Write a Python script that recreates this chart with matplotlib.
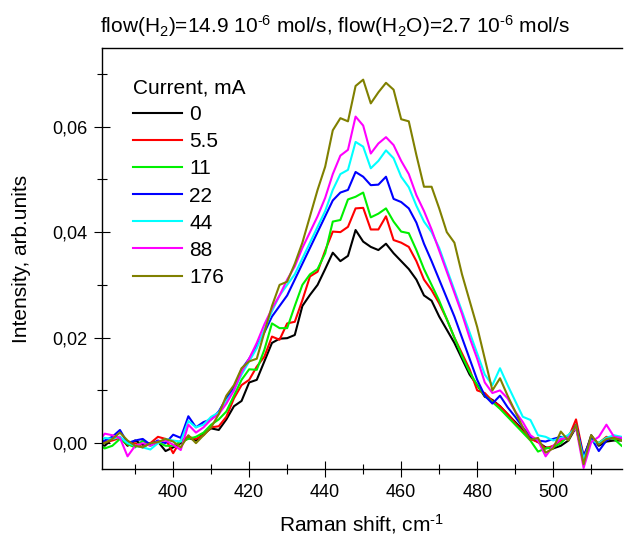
import numpy as np
import matplotlib
matplotlib.use("Agg")
from matplotlib import pyplot as plt
from matplotlib.ticker import MultipleLocator, FuncFormatter

plt.rcParams['font.family'] = ['Liberation Sans', 'DejaVu Sans']
plt.rcParams['mathtext.fontset'] = 'custom'
plt.rcParams['mathtext.rm'] = 'Liberation Sans'
plt.rcParams['mathtext.it'] = 'Liberation Sans:italic'
plt.rcParams['mathtext.default'] = 'regular'

# Raman shift grid, cm-1
shift = np.arange(380, 520, 2)

currents = ['0', '5.5', '11', '22', '44', '88', '176']
colors = ['#000000', '#ff0000', '#00f000', '#0000ff', '#00ffff', '#ff00ff', '#808000']

i_0 = [0.0000, -0.0005, 0.0008, 0.0012, -0.0005, 0.0005, -0.0003, 0.0000, 0.0003, -0.0015,
       -0.0008, 0.0000, 0.0010, 0.0005, 0.0018, 0.0028, 0.0025, 0.0045, 0.0070, 0.0080,
       0.0115, 0.0120, 0.0155, 0.0190, 0.0198, 0.0199, 0.0205, 0.0260, 0.0281, 0.0300,
       0.0330, 0.0361, 0.0345, 0.0355, 0.0404, 0.0382, 0.0372, 0.0366, 0.0378, 0.0360,
       0.0345, 0.0330, 0.0310, 0.0280, 0.0270, 0.0240, 0.0215, 0.0190, 0.0160, 0.0130,
       0.0110, 0.0088, 0.0082, 0.0070, 0.0055, 0.0040, 0.0025, 0.0010, 0.0002, -0.0008,
       -0.0010, -0.0005, 0.0005, 0.0030, -0.0030, 0.0015, -0.0005, 0.0003, 0.0005, 0.0005]
i_5 = [0.0000, 0.0002, 0.0005, 0.0010, -0.0003, 0.0000, -0.0008, 0.0000, 0.0012, 0.0008,
       -0.0019, 0.0005, 0.0012, 0.0008, 0.0015, 0.0030, 0.0032, 0.0050, 0.0085, 0.0110,
       0.0120, 0.0145, 0.0164, 0.0202, 0.0196, 0.0227, 0.0230, 0.0271, 0.0316, 0.0325,
       0.0365, 0.0401, 0.0400, 0.0410, 0.0445, 0.0446, 0.0405, 0.0405, 0.0430, 0.0385,
       0.0380, 0.0372, 0.0345, 0.0310, 0.0290, 0.0265, 0.0235, 0.0200, 0.0170, 0.0140,
       0.0100, 0.0095, 0.0080, 0.0070, 0.0055, 0.0038, 0.0022, 0.0008, 0.0002, -0.0010,
       -0.0005, 0.0005, 0.0010, 0.0045, -0.0025, 0.0010, 0.0000, 0.0012, 0.0008, 0.0010]
i_11 = [0.0000, -0.0010, -0.0005, 0.0008, -0.0002, -0.0008, 0.0005, -0.0005, 0.0002, -0.0005,
        -0.0005, 0.0003, 0.0008, 0.0012, 0.0020, 0.0035, 0.0045, 0.0060, 0.0090, 0.0120,
        0.0140, 0.0139, 0.0177, 0.0227, 0.0218, 0.0218, 0.0260, 0.0300, 0.0320, 0.0330,
        0.0360, 0.0420, 0.0423, 0.0462, 0.0467, 0.0475, 0.0428, 0.0435, 0.0445, 0.0420,
        0.0401, 0.0398, 0.0366, 0.0330, 0.0300, 0.0270, 0.0235, 0.0200, 0.0165, 0.0135,
        0.0110, 0.0090, 0.0078, 0.0065, 0.0050, 0.0035, 0.0020, 0.0005, -0.0016, -0.0010,
        -0.0008, 0.0000, 0.0015, 0.0030, -0.0030, 0.0008, 0.0000, 0.0010, 0.0008, -0.0005]
i_22 = [0.0000, 0.0005, 0.0012, 0.0025, 0.0000, 0.0005, 0.0008, -0.0003, 0.0005, 0.0000,
        0.0016, 0.0010, 0.0051, 0.0030, 0.0040, 0.0045, 0.0060, 0.0085, 0.0105, 0.0140,
        0.0160, 0.0185, 0.0210, 0.0240, 0.0260, 0.0280, 0.0310, 0.0340, 0.0370, 0.0400,
        0.0430, 0.0460, 0.0475, 0.0480, 0.0514, 0.0505, 0.0489, 0.0490, 0.0505, 0.0463,
        0.0457, 0.0445, 0.0418, 0.0378, 0.0345, 0.0310, 0.0275, 0.0240, 0.0200, 0.0160,
        0.0120, 0.0090, 0.0075, 0.0090, 0.0068, 0.0050, 0.0030, 0.0012, 0.0005, 0.0003,
        0.0008, 0.0012, 0.0008, 0.0035, -0.0025, 0.0010, -0.0015, 0.0005, 0.0012, 0.0010]
i_44 = [0.0000, 0.0010, 0.0008, 0.0012, 0.0000, -0.0005, -0.0008, -0.0012, 0.0000, 0.0008,
        0.0005, 0.0003, 0.0042, 0.0030, 0.0035, 0.0050, 0.0058, 0.0080, 0.0100, 0.0130,
        0.0155, 0.0180, 0.0215, 0.0250, 0.0280, 0.0300, 0.0320, 0.0350, 0.0380, 0.0410,
        0.0440, 0.0480, 0.0510, 0.0518, 0.0571, 0.0562, 0.0521, 0.0535, 0.0555, 0.0540,
        0.0505, 0.0485, 0.0450, 0.0420, 0.0400, 0.0370, 0.0330, 0.0290, 0.0250, 0.0210,
        0.0170, 0.0130, 0.0110, 0.0142, 0.0110, 0.0080, 0.0050, 0.0044, 0.0015, 0.0012,
        0.0005, 0.0010, 0.0015, 0.0030, -0.0030, 0.0005, 0.0000, 0.0010, 0.0015, 0.0012]
i_88 = [0.0000, 0.0018, 0.0015, 0.0010, -0.0025, -0.0005, 0.0000, -0.0005, 0.0003, 0.0005,
        -0.0003, -0.0013, 0.0035, 0.0020, 0.0030, 0.0045, 0.0055, 0.0075, 0.0100, 0.0135,
        0.0160, 0.0190, 0.0225, 0.0255, 0.0280, 0.0310, 0.0335, 0.0370, 0.0400, 0.0430,
        0.0465, 0.0510, 0.0545, 0.0556, 0.0619, 0.0602, 0.0549, 0.0568, 0.0580, 0.0565,
        0.0535, 0.0510, 0.0470, 0.0440, 0.0405, 0.0365, 0.0325, 0.0285, 0.0245, 0.0200,
        0.0160, 0.0115, 0.0095, 0.0100, 0.0085, 0.0060, 0.0040, 0.0015, 0.0005, -0.0025,
        -0.0005, 0.0008, 0.0010, 0.0030, -0.0047, 0.0002, 0.0012, 0.0035, 0.0012, 0.0010]
i_176 = [0.0000, 0.0000, 0.0008, 0.0020, 0.0005, -0.0005, -0.0008, 0.0000, 0.0002, 0.0008,
         0.0003, -0.0008, 0.0015, 0.0000, 0.0015, 0.0030, 0.0055, 0.0090, 0.0110, 0.0142,
         0.0155, 0.0160, 0.0210, 0.0260, 0.0300, 0.0306, 0.0340, 0.0380, 0.0430, 0.0480,
         0.0524, 0.0593, 0.0616, 0.0610, 0.0677, 0.0689, 0.0644, 0.0665, 0.0683, 0.0670,
         0.0614, 0.0610, 0.0546, 0.0486, 0.0486, 0.0445, 0.0400, 0.0380, 0.0320, 0.0270,
         0.0220, 0.0160, 0.0100, 0.0123, 0.0090, 0.0060, 0.0030, 0.0006, 0.0010, -0.0018,
         -0.0010, 0.0022, 0.0005, 0.0035, -0.0040, 0.0015, -0.0003, 0.0008, 0.0010, 0.0005]

series = [i_0, i_5, i_11, i_22, i_44, i_88, i_176]

W, H = 624, 538
fig = plt.figure(figsize=(W / 100, H / 100), dpi=100)
ax = fig.add_axes([101.7 / W, 1 - 469 / H, (622 - 101.7) / W, (469 - 48) / H])

for y, c, lab in zip(series, colors, currents):
    ax.plot(shift, y, color=c, lw=1.5, label=lab)

ax.set_xlim(381.2, 518.1)
ax.set_ylim(-0.0049, 0.0749)
ax.xaxis.set_major_locator(MultipleLocator(20))
ax.xaxis.set_minor_locator(MultipleLocator(10))
ax.yaxis.set_major_locator(MultipleLocator(0.02))
ax.yaxis.set_minor_locator(MultipleLocator(0.01))
ax.yaxis.set_major_formatter(FuncFormatter(lambda v, p: f"{v:.2f}".replace('.', ',')))
ax.tick_params(which='major', direction='inout', length=11, width=0.8, labelsize=13, pad=5)
ax.tick_params(which='minor', direction='inout', length=7, width=0.8)
ax.spines['right'].set_visible(False)
for s in ['left', 'bottom', 'top']:
    ax.spines[s].set_linewidth(1.0)

ax.set_xlabel("Raman shift, cm$^{\\text{-1}}$", fontsize=15)
ax.set_ylabel("Intensity, arb.units", fontsize=15)
ax.xaxis.set_label_coords(0.5, -(512 - 469) / (469 - 48))
ax.yaxis.set_label_coords(-(101.7 - 31) / (622 - 101.7), 0.5)

fig.text(100 / W, 1 - 33 / H,
         "flow(H$_2$)=14.9 10$^{\\text{-6}}$ mol/s, flow(H$_2$O)=2.7 10$^{\\text{-6}}$ mol/s",
         fontsize=15, ha='left', va='baseline')

leg = ax.legend(title="Current, mA", loc='upper left', frameon=False, fontsize=15,
                title_fontsize=15, alignment='left', handlelength=2.35,
                handletextpad=0.34, labelspacing=0.39, borderpad=0, borderaxespad=0,
                bbox_to_anchor=(133 / W, 1 - 78 / H), bbox_transform=fig.transFigure)

fig.savefig("out.png", dpi=100)
